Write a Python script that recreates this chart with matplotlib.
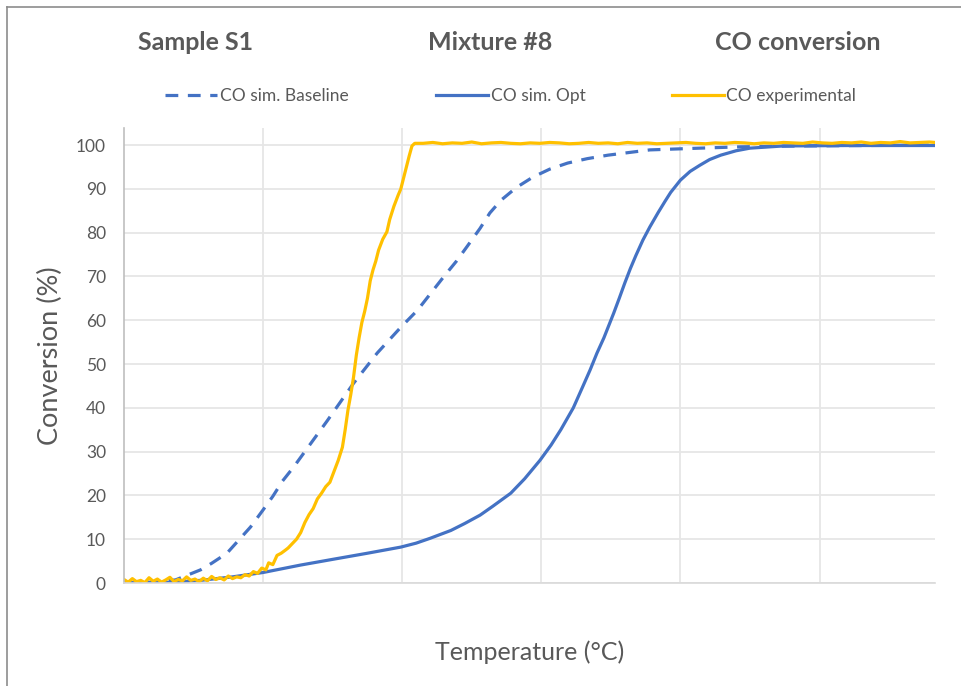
import matplotlib
matplotlib.use("Agg")
import matplotlib.pyplot as plt
from matplotlib.lines import Line2D

plt.rcParams['font.family'] = ['Lato', 'DejaVu Sans']

# temperature axis has no tick labels in the original; units are relative
base_temp = [0, 19, 37, 55, 63, 74, 91, 100, 107, 114, 122, 130, 146, 165, 182, 199,
             211, 230, 239, 247, 256, 263, 271, 282, 294, 306, 319, 333, 348, 378,
             414, 443, 486, 583]
base_conv = [0.0, 0.2, 0.7, 3.0, 4.5, 6.8, 12.8, 16.7, 19.8, 23.3, 26.5, 30.0, 37.0,
             45.6, 52.5, 58.4, 62.3, 70.0, 73.5, 77.0, 81.0, 84.5, 87.4, 90.3, 92.7,
             94.5, 95.9, 96.9, 97.7, 98.9, 99.3, 99.6, 99.8, 100.0]

opt_temp = [0, 30, 55, 78, 100, 127, 150, 175, 199, 210, 220, 235, 245, 256, 265,
            278, 288, 299, 307, 314, 323, 330, 335, 340, 345, 352, 356, 360, 364,
            368, 373, 378, 384, 389, 393, 400, 407, 414, 421, 429, 440, 450, 474,
            522, 583]
opt_conv = [0.0, 0.1, 0.6, 1.4, 2.4, 4.1, 5.4, 6.8, 8.2, 9.1, 10.2, 12.0, 13.6, 15.5,
            17.5, 20.5, 23.8, 28.0, 31.5, 35.0, 40.0, 45.0, 48.6, 52.5, 56.0, 61.6,
            65.0, 68.5, 71.8, 74.8, 78.3, 81.3, 84.6, 87.2, 89.2, 92.0, 94.0, 95.4,
            96.7, 97.7, 98.7, 99.3, 99.8, 99.9, 99.9]

exp_temp = [0, 3, 6, 9, 12, 15, 18, 21, 24, 27, 30, 33, 36, 39, 42, 45, 48, 51, 54,
            57, 60, 63, 66, 69, 72, 75, 78, 81, 84, 87, 90,
            93, 96, 99, 102, 104, 107, 110, 113, 116, 118, 121, 124, 127, 130, 133,
            136, 139, 142, 145, 148, 151, 154, 157, 159, 161, 163, 165, 167, 169,
            171, 173, 175, 177, 179, 181, 183, 186, 189, 191, 194, 197, 199, 201,
            203, 205, 207, 209,
            215, 222, 229, 236, 243, 250, 257, 264, 271, 278, 285, 292, 299, 306,
            313, 320, 327, 334, 341, 348, 355, 362, 369, 376, 383, 390, 397, 404,
            411, 418, 425, 432, 439, 446, 453, 460, 467, 474, 481, 488, 495, 502,
            509, 516, 523, 530, 537, 544, 551, 558, 565, 572, 579, 583]
exp_conv = [0.8, 0.2, 1.0, 0.3, 0.6, 0.1, 1.2, 0.4, 0.9, 0.2, 0.7, 1.3, 0.3, 0.8,
            0.5, 1.4, 0.6, 0.9, 0.3, 1.1, 0.5, 1.5, 0.8, 1.2, 0.7, 1.6, 1.0, 1.4,
            1.2, 1.9, 1.6,
            2.6, 2.2, 3.4, 3.0, 4.6, 4.2, 6.3, 6.8, 7.5, 8.0, 9.0, 10.0, 11.5, 13.8,
            15.6, 17.0, 19.2, 20.5, 22.0, 23.0, 25.5, 28.0, 31.0, 35.0, 39.5, 43.0,
            47.0, 52.0, 56.0, 59.5, 62.0, 65.0, 69.0, 71.5, 73.5, 76.0, 78.5, 80.2,
            83.0, 86.0, 88.5, 90.0, 92.5, 95.0, 97.5, 99.8, 100.4,
            100.4, 100.6, 100.3, 100.5, 100.4, 100.7, 100.3, 100.5, 100.6, 100.4,
            100.3, 100.5, 100.4, 100.6, 100.5, 100.3, 100.4, 100.6, 100.4, 100.5,
            100.3, 100.6, 100.4, 100.5, 100.3, 100.4, 100.5, 100.6, 100.4, 100.3,
            100.5, 100.4, 100.6, 100.5, 100.3, 100.5, 100.4, 100.6, 100.5, 100.4,
            100.7, 100.5, 100.4, 100.6, 100.5, 100.7, 100.4, 100.6, 100.5, 100.8,
            100.5, 100.6, 100.7, 100.6]

titles = ["Sample S1", "Mixture #8", "CO conversion"]
labels = ["CO sim. Baseline", "CO sim. Opt", "CO experimental"]
y_ticks = list(range(0, 101, 10))
x_grid = [100, 200, 300, 400, 500]

blue = "#4472C4"
yellow = "#FFC000"
grey_text = "#595959"

fig = plt.figure(figsize=(9.62, 6.86), dpi=100)
ax = fig.add_axes([124 / 962, 1 - 583 / 686, (935 - 124) / 962, (583 - 128) / 686])

l1, = ax.plot(base_temp, base_conv, color=blue, lw=2.3, ls=(0, (4, 3)),
              label=labels[0])
l2, = ax.plot(opt_temp, opt_conv, color=blue, lw=2.3, label=labels[1])
l3, = ax.plot(exp_temp, exp_conv, color=yellow, lw=2.3, label=labels[2])

ax.set_xlim(0, 583)
ax.set_ylim(0, 103.9)
ax.set_yticks(y_ticks)
ax.set_xticks(x_grid)
ax.set_xticklabels([])
ax.tick_params(length=0, labelsize=12.5, labelcolor=grey_text, pad=13)
ax.grid(True, color="#E6E6E6", lw=1.3)
ax.set_axisbelow(True)
for s in ["top", "right"]:
    ax.spines[s].set_visible(False)
ax.spines["left"].set_color("#BFBFBF")
ax.spines["bottom"].set_color("#D9D9D9")
ax.spines["left"].set_linewidth(1.2)
ax.spines["bottom"].set_linewidth(1.2)

ax.set_ylabel("Conversion (%)", fontsize=19.5, color=grey_text, labelpad=9)
ax.set_xlabel("Temperature (°C)", fontsize=18, color=grey_text, labelpad=28)

for t, xc in zip(titles, [196, 490, 798]):
    fig.text(xc / 962, 1 - 43 / 686, t, ha="center", va="center",
             fontsize=18, fontweight="bold", color=grey_text)

for h, xc in zip([l1, l2, l3], [257, 511, 764]):
    fig.legend(handles=[h], loc="center", bbox_to_anchor=(xc / 962, 1 - 96 / 686),
               frameon=False, fontsize=12.5, handlelength=3.0, handletextpad=0.15,
               labelcolor=grey_text, borderpad=0)

# outer frame (left and top edges only are visible in the original)
fig.add_artist(Line2D([7.5 / 962, 7.5 / 962], [0, 1 - 6.5 / 686],
                      color="#8C8C8C", lw=1.2, transform=fig.transFigure))
fig.add_artist(Line2D([7.5 / 962, 1], [1 - 6.5 / 686, 1 - 6.5 / 686],
                      color="#8C8C8C", lw=1.2, transform=fig.transFigure))

fig.savefig("out.png", dpi=100)
